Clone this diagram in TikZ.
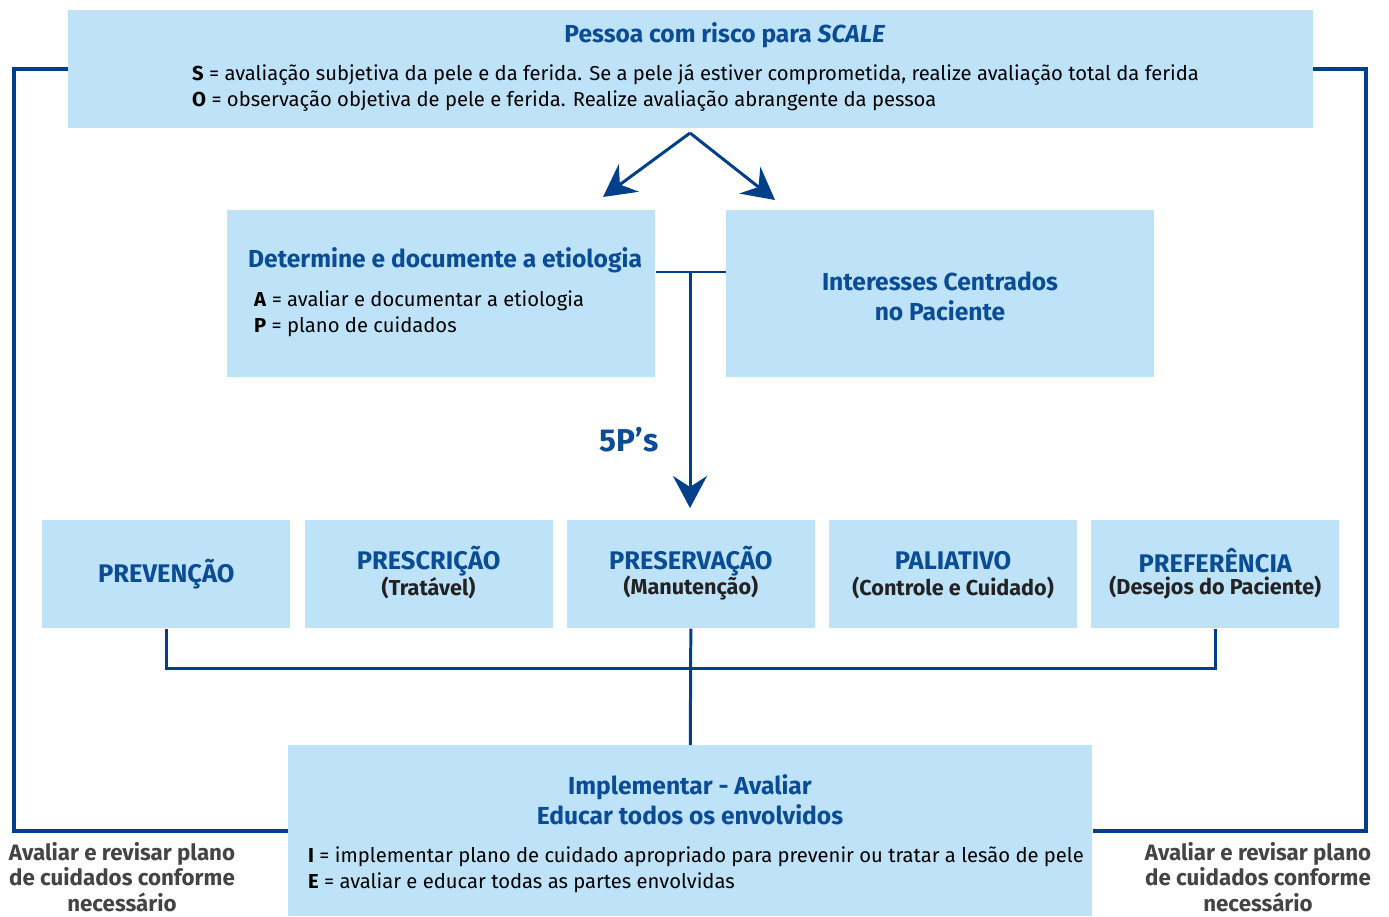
\documentclass[tikz,border=0pt]{standalone}
\usepackage{fontspec}
\setmainfont{Fira Sans}
\usetikzlibrary{positioning,arrows.meta}
\definecolor{boxblue}{HTML}{BEE3F8}
\definecolor{darkblue}{HTML}{00408A}
\definecolor{titleblue}{HTML}{0A4C95}
\definecolor{labelgrey}{HTML}{444444}
\definecolor{subgrey}{HTML}{222222}

\begin{document}
\begin{tikzpicture}[x=0.02cm, y=-0.02cm,
  box/.style={fill=boxblue, inner sep=0pt, anchor=north west},
  pbox/.style={box, minimum width=4.96cm, minimum height=2.16cm, align=center},
  ttl/.style={font=\bfseries\fontsize{14}{17}\selectfont, text=titleblue, align=center},
  body/.style={font=\fontsize{11.5}{14.7}\selectfont, anchor=west, align=left},
  side/.style={font=\bfseries\fontsize{12.7}{14.5}\selectfont, text=labelgrey, align=center},
  link/.style={draw=darkblue, line width=1.7pt},
  loopline/.style={draw=darkblue, line width=2.3pt},
  tip/.style={-{Stealth[length=0.64cm, width=0.68cm, inset=0.22cm]}}]
\useasboundingbox (0,0) rectangle (1389,916);

% SCALE
\node[box, minimum width=24.9cm, minimum height=2.36cm] (scale) at (68,10) {};
\node[ttl] (scaleT) at (725,35) {Pessoa com risco para \textit{SCALE}};
\node[body] (scaleB) at (186,88) {\textbf{S} = avaliação subjetiva da pele e da ferida. Se a pele já estiver comprometida, realize avaliação total da ferida\\
\textbf{O} = observação objetiva de pele e ferida. Realize avaliação abrangente da pessoa};

% A and P
\node[box, minimum width=8.56cm, minimum height=3.34cm] (etio) at (227,210) {};
\node[box, minimum width=8.56cm, minimum height=3.34cm] (pac) at (726,210) {};
\node[ttl, anchor=west] (etioT) at (242,260) {Determine e documente a etiologia};
\node[body] (etioB) at (248,314) {\textbf{A} = avaliar e documentar a etiologia\\
\textbf{P} = plano de cuidados};
\node[ttl] (pacT) at (940,296) {Interesses Centrados\\no Paciente};

\coordinate (split) at (690,133);
\coordinate (endA) at (603,197);
\coordinate (endB) at (775,200);
\draw[link, tip] (split) -- (endA);
\draw[link, tip] (split) -- (endB);

% 5P's
\coordinate (join) at (690,272);
\coordinate (down) at (690,508);
\draw[link] (join -| etio.east) -- (join -| pac.west);
\draw[link, tip] (join) -- (down);
\node[ttl, font=\bfseries\fontsize{18}{20}\selectfont] (fivep) at (629,440) {5P’s};

\foreach \i/\nm/\txt/\sub/\dy in {0/prev/PREVENÇÃO//0,
  1/presc/PRESCRIÇÃO/(Tratável)/0.27,
  2/pres/PRESERVAÇÃO/(Manutenção)/0.27,
  3/pali/PALIATIVO/(Controle e Cuidado)/0.27,
  4/pref/PREFERÊNCIA/(Desejos do Paciente)/0.27} {
  \node[pbox] (\nm) at (42+\i*262.25,520) {};
  \node[ttl, font=\bfseries\fontsize{14.5}{17}\selectfont] at ([yshift=\dy cm]\nm.center) {\txt};
  \node[font=\bfseries\fontsize{12.3}{14}\selectfont, text=subgrey] at ([yshift=-0.27cm]\nm.center) {\sub};
}

% I and E
\node[box, minimum width=16.08cm, minimum height=3.42cm] (impl) at (288,745) {};
\node[ttl] (implT) at (690,800) {Implementar - Avaliar\\Educar todos os envolvidos};
\node[body] (implB) at (302,870) {\textbf{I} = implementar plano de cuidado apropriado para prevenir ou tratar a lesão de pele\\
\textbf{E} = avaliar e educar todas as partes envolvidas};

\coordinate (bus) at (690,668);
\draw[link] (prev.south) -- (prev.south |- bus) -- (pref.south |- bus) -- (pref.south);
\draw[link] (pres.south) -- (impl.north);

\draw[loopline] (scale.west) -- ++(-54,0) |- (impl.west);
\draw[loopline] (scale.east) -- ++(53,0) |- (impl.east);

\node[side] (revL) at (122,877) {Avaliar e revisar plano\\de cuidados conforme\\necessário};
\node[side] (revR) at (1258,877) {Avaliar e revisar plano\\de cuidados conforme\\necessário};
\end{tikzpicture}
\end{document}
